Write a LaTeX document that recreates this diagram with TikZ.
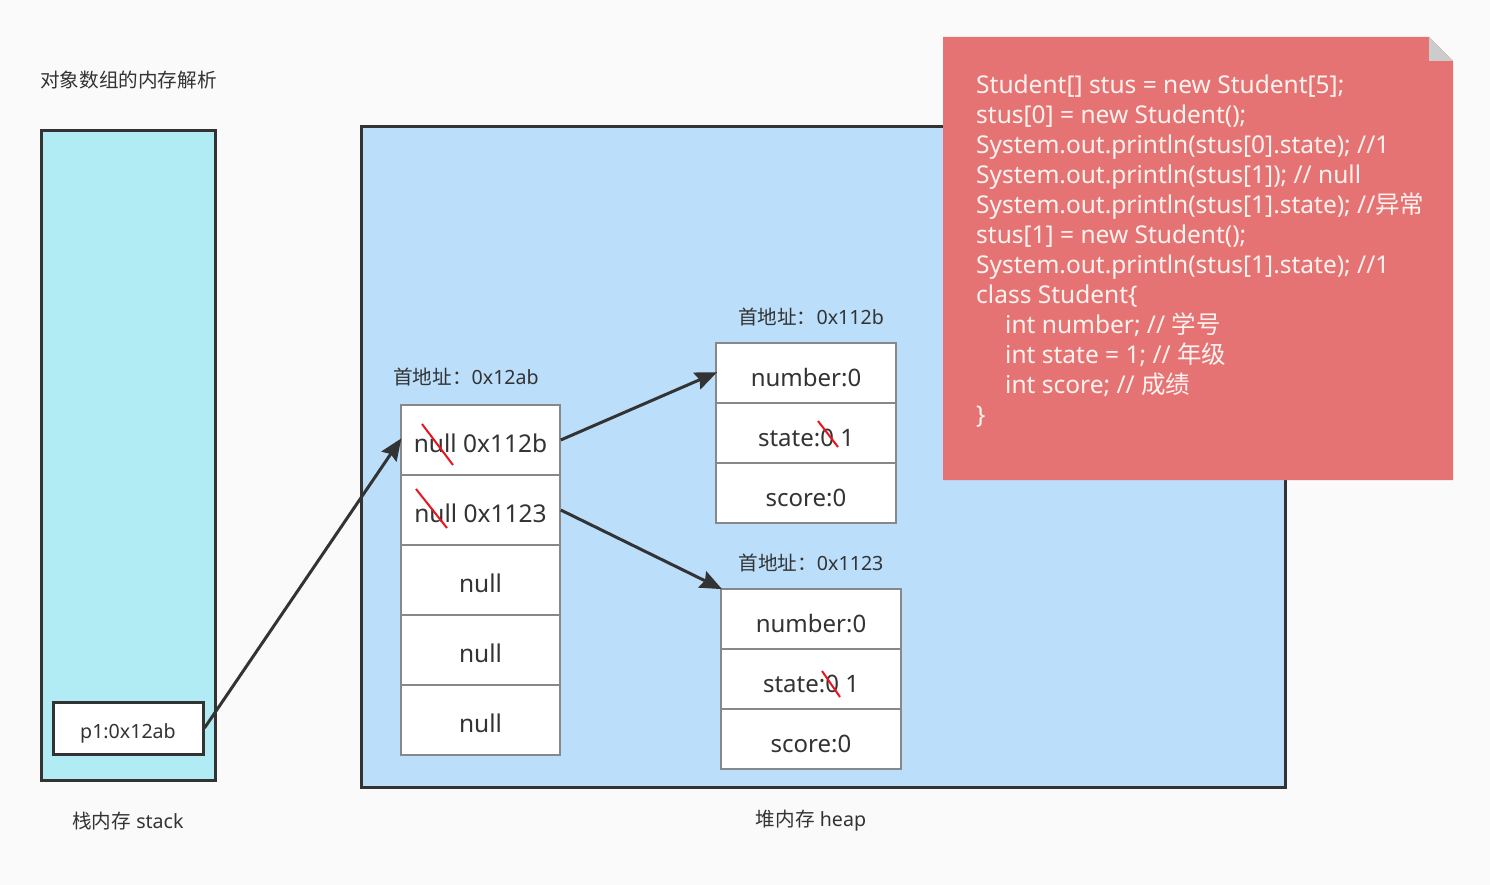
\documentclass[tikz,border=0pt]{standalone}
\usepackage{fontspec}
\setmainfont{Noto Sans}
\newfontfamily\cjk{Noto Sans CJK SC}
\usetikzlibrary{arrows.meta}
\definecolor{bgc}{HTML}{FAFAFA}
\definecolor{stackc}{HTML}{B1EBF3}
\definecolor{heapc}{HTML}{BBDEFB}
\definecolor{darkc}{HTML}{333333}
\definecolor{cellb}{HTML}{888888}
\definecolor{notec}{HTML}{E57373}
\definecolor{notet}{HTML}{FFF3F0}
\definecolor{foldc}{HTML}{CCCCCC}
\definecolor{strikec}{HTML}{E8141E}
\tikzset{
  cellbox/.style={draw=cellb,line width=1.5pt,fill=white,minimum width=159pt,minimum height=70pt,inner sep=0pt,font=\fontsize{24.5}{28}\selectfont,text=darkc,text height=24.6pt,text depth=0pt},
  objbox/.style={draw=cellb,line width=1.5pt,fill=white,minimum width=180pt,minimum height=60pt,inner sep=0pt,font=\fontsize{24}{28}\selectfont,text=darkc,text height=26pt,text depth=0pt},
  lbl/.style={font=\fontsize{19.6}{22}\selectfont,text=darkc,inner sep=0pt},
  conn/.style={draw=darkc,line width=3pt,-{Stealth[inset=3pt,length=22pt,width=18pt]},shorten >=-2pt},
  strike/.style={draw=strikec,line width=2pt},
  notetext/.style={font=\fontsize{24.5}{30}\selectfont,text=notet,align=left,anchor=north west,inner sep=0pt}
}
\begin{document}
\begin{tikzpicture}[x=1pt,y=-1pt]
\fill[bgc] (0,0) rectangle (1490,885);
\useasboundingbox (0,0) rectangle (1490,885);
% title
\node[lbl,anchor=west] (title) at (40,80) {\cjk 对象数组的内存解析};
% stack
\node[draw=darkc,line width=3pt,fill=stackc,minimum width=174pt,minimum height=649pt,inner sep=0pt] (stack) at (128,455.5) {};
\node[draw=darkc,line width=3pt,fill=white,minimum width=150pt,minimum height=52pt,inner sep=0pt,font=\fontsize{19.6}{24}\selectfont,text=darkc,text height=20.8pt,text depth=0pt] (p1) at (128,728) {p1:0x12ab};
\node[lbl] (stacklbl) at (128,821) {{\cjk 栈内存} stack};
% heap
\node[draw=darkc,line width=3pt,fill=heapc,minimum width=924pt,minimum height=660pt,inner sep=0pt] (heap) at (823,457) {};
\node[lbl] (heaplbl) at (811,821) {{\cjk 堆内存} heap};
% array
\node[lbl] (a0lbl) at (466,377) {{\cjk 首地址：}0x12ab};
\node[cellbox] (c0) at (480.5,440) {null 0x112b};
\node[cellbox] (c1) at (480.5,510) {null 0x1123};
\node[cellbox] (c2) at (480.5,580) {null};
\node[cellbox] (c3) at (480.5,650) {null};
\node[cellbox] (c4) at (480.5,720) {null};
% object 1
\node[lbl] (o1lbl) at (811,317) {{\cjk 首地址：}0x112b};
\node[objbox] (o1a) at (806,373) {number:0};
\node[objbox] (o1b) at (806,433) {state:0 1};
\node[objbox] (o1c) at (806,493) {score:0};
% object 2
\node[lbl] (o2lbl) at (811,563) {{\cjk 首地址：}0x1123};
\node[objbox] (o2a) at (811,619) {number:0};
\node[objbox] (o2b) at (811,679) {state:0 1};
\node[objbox] (o2c) at (811,739) {score:0};
% strikes
\coordinate (s1a) at (422,424); \coordinate (s1b) at (453,465);
\coordinate (s2a) at (416,489); \coordinate (s2b) at (447,528);
\coordinate (s3a) at (818,421); \coordinate (s3b) at (838,447);
\coordinate (s4a) at (822,671); \coordinate (s4b) at (840,697);
\draw[strike] (s1a) -- (s1b);
\draw[strike] (s2a) -- (s2b);
\draw[strike] (s3a) -- (s3b);
\draw[strike] (s4a) -- (s4b);
% connectors
\draw[conn] (p1.east) -- (c0.west);
\draw[conn] (c0.east) -- (o1a.west);
\draw[conn] (c1.east) -- (o2a.north west);
% note
\fill[notec] (943,37) -- (1429,37) -- (1453,61) -- (1453,480) -- (943,480) -- cycle;
\fill[foldc] (1429,37) -- (1453,61) -- (1429,61) -- cycle;
\node[notetext] (code) at (976,75) {Student[] stus = new Student[5];\\
stus[0] = new Student();\\
System.out.println(stus[0].state); //1\\
System.out.println(stus[1]); // null\\
System.out.println(stus[1].state); //{\cjk 异常}\\
stus[1] = new Student();\\
System.out.println(stus[1].state); //1\\
class Student\{\\
\hspace*{29pt}int number; // {\cjk 学号}\\
\hspace*{29pt}int state = 1; // {\cjk 年级}\\
\hspace*{29pt}int score; // {\cjk 成绩}\\
\}};
\end{tikzpicture}
\end{document}
